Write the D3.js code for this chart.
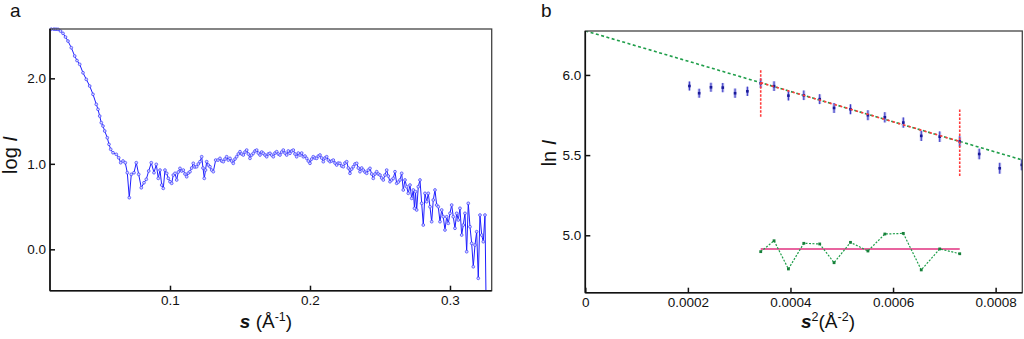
<!DOCTYPE html>
<html><head><meta charset="utf-8">
<script src="https://cdn.jsdelivr.net/npm/d3@7"></script>
<style>
body{margin:0;background:#fff}
text{font-family:"Liberation Sans",Arial,Helvetica,sans-serif;fill:#111}
</style>
</head><body>
<svg id="chart" width="1024" height="339"></svg>
<script>
// ---- Panel a: scattering profile (log I vs s) ----
const sValues = [
0.01521,0.01714,0.01857,0.02000,0.02179,0.02357,0.02536,0.02714,0.02950,0.03193,
0.03357,0.03550,0.03786,0.04021,0.04264,0.04500,0.04736,0.04857,0.04979,0.05093,
0.05214,0.05336,0.05521,0.05643,0.05764,0.05929,0.06164,0.06336,0.06479,0.06643,
0.06807,0.06950,0.07093,0.07236,0.07429,0.07593,0.07764,0.07950,0.08143,0.08307,
0.08479,0.08664,0.08857,0.09021,0.09164,0.09286,0.09407,0.09521,0.09643,0.09764,
0.09879,0.10000,0.10121,0.10236,0.10357,0.10479,0.10593,0.10714,0.10836,0.10950,
0.11071,0.11193,0.11307,0.11429,0.11550,0.11664,0.11786,0.11907,0.12021,0.12143,
0.12264,0.12357,0.12450,0.12536,0.12621,0.12736,0.12857,0.12979,0.13093,0.13264,
0.13429,0.13571,0.13693,0.13807,0.13929,0.14050,0.14164,0.14286,0.14407,0.14521,
0.14643,0.14764,0.14879,0.15000,0.15121,0.15236,0.15357,0.15479,0.15593,0.15714,
0.15836,0.15950,0.16071,0.16193,0.16307,0.16429,0.16550,0.16664,0.16786,0.16907,
0.17021,0.17143,0.17264,0.17379,0.17500,0.17621,0.17736,0.17857,0.17979,0.18093,
0.18214,0.18336,0.18450,0.18571,0.18693,0.18807,0.18929,0.19050,0.19164,0.19286,
0.19407,0.19521,0.19643,0.19764,0.19879,0.20000,0.20121,0.20236,0.20357,0.20479,
0.20593,0.20714,0.20836,0.20950,0.21071,0.21193,0.21307,0.21429,0.21550,0.21664,
0.21786,0.21907,0.22021,0.22143,0.22264,0.22379,0.22500,0.22621,0.22736,0.22857,
0.22979,0.23093,0.23214,0.23336,0.23450,0.23571,0.23693,0.23807,0.23929,0.24050,
0.24164,0.24286,0.24407,0.24521,0.24643,0.24764,0.24879,0.25000,0.25121,0.25236,
0.25357,0.25479,0.25593,0.25714,0.25836,0.25950,0.26071,0.26193,0.26307,0.26429,
0.26550,0.26664,0.26786,0.26907,0.27021,0.27143,0.27264,0.27379,0.27464,0.27536,
0.27621,0.27736,0.27857,0.27979,0.28093,0.28214,0.28336,0.28450,0.28571,0.28693,
0.28807,0.28929,0.29050,0.29164,0.29286,0.29407,0.29521,0.29643,0.29764,0.29879,
0.30000,0.30121,0.30236,0.30357,0.30479,0.30593,0.30714,0.30836,0.30950,0.31071,
0.31193,0.31307,0.31429,0.31550,0.31664,0.31786,0.31907,0.32021,0.32143,0.32264,
0.32379,0.32500,0.32571
];
const logIValues = [
2.575,2.575,2.574,2.573,2.553,2.526,2.483,2.436,2.358,2.261,
2.208,2.164,2.065,1.988,1.910,1.813,1.696,1.637,1.559,1.481,
1.442,1.384,1.305,1.228,1.170,1.130,1.111,1.071,1.013,1.033,
1.013,0.896,0.604,0.877,0.896,1.013,0.877,0.720,0.779,0.819,
0.916,1.013,0.896,0.994,0.830,0.927,0.752,0.713,0.927,0.889,
0.830,0.791,0.772,0.869,0.889,0.811,0.904,0.947,0.916,0.927,
0.881,0.849,0.892,0.908,0.951,1.006,0.963,0.966,0.998,1.025,
1.083,0.951,0.830,0.927,1.025,0.986,0.966,0.927,0.908,1.044,
1.044,1.064,1.033,1.025,1.056,1.083,1.044,1.064,1.033,1.006,
1.056,1.083,1.115,1.142,1.115,1.103,1.138,1.161,1.115,1.064,
1.103,1.123,1.150,1.161,1.126,1.103,1.138,1.123,1.103,1.083,
1.115,1.123,1.103,1.083,1.126,1.142,1.115,1.103,1.138,1.161,
1.126,1.103,1.150,1.123,1.150,1.161,1.115,1.083,1.126,1.103,
1.126,1.083,1.091,1.064,1.033,1.006,1.056,1.083,1.068,1.064,
1.091,1.103,1.068,1.025,1.068,1.083,1.044,1.025,1.033,1.044,
1.009,0.986,1.009,1.006,0.974,0.966,1.009,1.025,0.951,0.889,
0.939,0.966,0.998,1.006,0.951,0.908,0.951,0.927,0.904,0.889,
0.927,0.947,0.881,0.830,0.881,0.908,0.881,0.869,0.834,0.811,
0.869,0.927,0.857,0.791,0.811,0.830,0.908,0.772,0.787,0.811,
0.889,0.694,0.811,0.732,0.655,0.752,0.596,0.694,0.480,0.674,
0.460,0.732,0.811,0.538,0.284,0.655,0.557,0.655,0.498,0.323,
0.577,0.694,0.518,0.498,0.323,0.460,0.381,0.226,0.381,0.304,
0.421,0.518,0.381,0.246,0.421,0.343,0.480,0.167,0.284,0.421,
-0.028,0.538,0.264,0.070,-0.204,0.050,0.206,-0.339,0.401,0.167,
0.089,0.401,-0.520
];
const aXTicks = [0.1, 0.2, 0.3];
const aYTicks = [0.0, 1.0, 2.0];

// ---- Panel b: Guinier plot (ln I vs s^2) ----
const s2Values = [
0.000203,0.000222,0.000245,0.000268,0.000292,0.000316,0.000342,0.000368,0.000396,0.000426,0.000457,
0.000485,0.000517,0.000551,0.000584,0.000620,0.000655,0.000691,0.000730,0.000768,0.000808,0.000851
];
const lnIValues = [
5.931,5.886,5.923,5.921,5.886,5.898,5.948,5.930,5.871,5.873,5.849,
5.794,5.786,5.749,5.736,5.703,5.620,5.615,5.585,5.507,5.418,5.439
];
const lnIErrors = [
0.028,0.028,0.028,0.029,0.029,0.029,0.030,0.030,0.030,0.030,0.031,
0.031,0.031,0.031,0.032,0.032,0.032,0.033,0.033,0.033,0.034,0.034
];
const fitIntercept = 6.275;
const fitSlope = -945;
const fitStart = 6;    // first point used by the fit
const fitEnd = 18;     // last point used by the fit
const fitLimitSpans = [[5.740, 6.031], [5.370, 5.790]];
const residualValues = [4.898,4.966,4.790,4.950,4.946,4.829,4.956,4.902,5.008,5.012,4.784,4.915,4.885];
const residualBase = 4.915;
const bXTicks = [0, 0.0002, 0.0004, 0.0006, 0.0008];
const bXTickLabels = ["0", "0.0002", "0.0004", "0.0006", "0.0008"];
const bYTicks = [5.0, 5.5, 6.0];

const svg = d3.select("#chart");

function frame(g, w, h) {
  g.append("rect").attr("x", 0).attr("y", 0).attr("width", w).attr("height", h)
    .attr("fill", "none").attr("stroke", "#444").attr("stroke-width", 1.3);
  g.append("line").attr("x1", 0).attr("x2", 0).attr("y1", 0).attr("y2", h)
    .attr("stroke", "#111").attr("stroke-width", 1.6);
  g.append("line").attr("x1", 0).attr("x2", w).attr("y1", h).attr("y2", h)
    .attr("stroke", "#111").attr("stroke-width", 1.6);
}

function styleAxis(sel) {
  sel.select(".domain").remove();
  sel.selectAll(".tick line").attr("stroke", "#111").attr("stroke-width", 1.5);
  sel.selectAll(".tick text").attr("font-size", 13.5).attr("fill", "#111")
    .attr("font-family", '"Liberation Sans",Arial,sans-serif');
}

// ===== Panel a =====
const A = {x: 50, y: 29, w: 441.7, h: 261.7};
const ax = d3.scaleLinear().domain([0.01429, 0.3298]).range([0, A.w]);
const ay = d3.scaleLinear().domain([-0.484, 2.577]).range([A.h, 0]);
const ga = svg.append("g").attr("transform", `translate(${A.x},${A.y})`);

ga.append("clipPath").attr("id", "clipA").append("rect")
  .attr("x", -3).attr("y", -3).attr("width", A.w + 3).attr("height", A.h + 3);

const aData = sValues.map((s, i) => [s, logIValues[i]]);
const dataA = ga.append("g").attr("clip-path", "url(#clipA)");
dataA.append("path").datum(aData)
  .attr("fill", "none").attr("stroke", "#1e1eff").attr("stroke-width", 1)
  .attr("d", d3.line().x(d => ax(d[0])).y(d => ay(d[1])));
dataA.selectAll("circle").data(aData).join("circle")
  .attr("cx", d => ax(d[0])).attr("cy", d => ay(d[1])).attr("r", 1.4)
  .attr("fill", "#d4d4ff").attr("stroke", "#3a3aff").attr("stroke-width", 0.7);

frame(ga, A.w, A.h);
ga.append("g").attr("transform", `translate(0,${A.h})`)
  .call(d3.axisBottom(ax).tickValues(aXTicks).tickSize(-5).tickPadding(5).tickFormat(d3.format(".1f")))
  .call(styleAxis);
ga.append("g")
  .call(d3.axisLeft(ay).tickValues(aYTicks).tickSize(-5).tickPadding(4).tickFormat(d3.format(".1f")))
  .call(styleAxis);

svg.append("text").attr("x", 10).attr("y", 17).attr("font-size", 19).text("a");
svg.append("text").attr("transform", "translate(17,155) rotate(-90)")
  .attr("text-anchor", "middle").attr("font-size", 20)
  .call(t => { t.append("tspan").text("log "); t.append("tspan").attr("font-style", "italic").text("I"); });
svg.append("text").attr("x", 266).attr("y", 328).attr("text-anchor", "middle").attr("font-size", 19)
  .call(t => {
    t.append("tspan").attr("font-style", "italic").attr("font-weight", "bold").text("s");
    t.append("tspan").text(" (Å");
    t.append("tspan").attr("dy", -7).attr("font-size", 12.5).text("-1");
    t.append("tspan").attr("dy", 7).text(")");
  });

// ===== Panel b =====
const B = {x: 585.3, y: 31, w: 437, h: 261.7};
const bx = d3.scaleLinear().domain([0, 0.000852]).range([0, B.w]);
const by = d3.scaleLinear().domain([4.642, 6.274]).range([B.h, 0]);
const gb = svg.append("g").attr("transform", `translate(${B.x},${B.y})`);

gb.append("clipPath").attr("id", "clipB").append("rect")
  .attr("x", 0).attr("y", 0).attr("width", B.w).attr("height", B.h);
const plotB = gb.append("g").attr("clip-path", "url(#clipB)");

const fitLine = s2 => fitIntercept + fitSlope * s2;

// full-range linear fit
plotB.append("line")
  .attr("x1", bx(0)).attr("y1", by(fitLine(0)))
  .attr("x2", bx(0.000852)).attr("y2", by(fitLine(0.000852)))
  .attr("stroke", "#1f9e4a").attr("stroke-width", 1.6).attr("stroke-dasharray", "3,2.5");

// error bars and points
const bData = s2Values.map((s, i) => ({s, v: lnIValues[i], e: lnIErrors[i]}));
plotB.selectAll(".errHalo").data(bData).join("line").attr("class", "errHalo")
  .attr("x1", d => bx(d.s)).attr("x2", d => bx(d.s))
  .attr("y1", d => by(d.v - d.e)).attr("y2", d => by(d.v + d.e))
  .attr("stroke", "#c0c0f0").attr("stroke-width", 3);
plotB.selectAll(".err").data(bData).join("line").attr("class", "err")
  .attr("x1", d => bx(d.s)).attr("x2", d => bx(d.s))
  .attr("y1", d => by(d.v - d.e)).attr("y2", d => by(d.v + d.e))
  .attr("stroke", "#3434c4").attr("stroke-width", 1);
plotB.selectAll(".pt").data(bData).join("rect").attr("class", "pt")
  .attr("x", d => bx(d.s) - 1.3).attr("y", d => by(d.v) - 1.3)
  .attr("width", 2.6).attr("height", 2.6).attr("fill", "#1a1a99");

// fitted segment and its limits
const s0 = s2Values[fitStart], s1 = s2Values[fitEnd];
plotB.append("line")
  .attr("x1", bx(s0)).attr("y1", by(fitLine(s0)))
  .attr("x2", bx(s1)).attr("y2", by(fitLine(s1)))
  .attr("stroke", "#ff3b3b").attr("stroke-width", 1.6)
  .attr("stroke-dasharray", "2.5,3");
[s0, s1].forEach((s, i) => {
  plotB.append("line")
    .attr("x1", bx(s)).attr("x2", bx(s))
    .attr("y1", by(fitLimitSpans[i][0])).attr("y2", by(fitLimitSpans[i][1]))
    .attr("stroke", "#ff3b3b").attr("stroke-width", 1.6).attr("stroke-dasharray", "2.5,1.5");
});

// residuals
const resData = residualValues.map((v, i) => [s2Values[fitStart + i], v]);
plotB.append("line")
  .attr("x1", bx(s0)).attr("x2", bx(s1))
  .attr("y1", by(residualBase)).attr("y2", by(residualBase))
  .attr("stroke", "#e0307f").attr("stroke-width", 1.5);
plotB.append("path").datum(resData)
  .attr("fill", "none").attr("stroke", "#1f9e4a").attr("stroke-width", 1.2)
  .attr("stroke-dasharray", "2,1.5")
  .attr("d", d3.line().x(d => bx(d[0])).y(d => by(d[1])));
plotB.selectAll(".res").data(resData).join("rect").attr("class", "res")
  .attr("x", d => bx(d[0]) - 1.4).attr("y", d => by(d[1]) - 1.4)
  .attr("width", 2.8).attr("height", 2.8).attr("fill", "#17803a");

frame(gb, B.w, B.h);
gb.append("g").attr("transform", `translate(0,${B.h})`)
  .call(d3.axisBottom(bx).tickValues(bXTicks).tickSize(-5).tickPadding(5)
    .tickFormat((d, i) => bXTickLabels[i]))
  .call(styleAxis);
gb.append("g")
  .call(d3.axisLeft(by).tickValues(bYTicks).tickSize(-5).tickPadding(4).tickFormat(d3.format(".1f")))
  .call(styleAxis);

svg.append("text").attr("x", 541).attr("y", 17).attr("font-size", 19).text("b");
svg.append("text").attr("transform", "translate(556,153) rotate(-90)")
  .attr("text-anchor", "middle").attr("font-size", 20)
  .call(t => { t.append("tspan").text("ln "); t.append("tspan").attr("font-style", "italic").text("I"); });
svg.append("text").attr("x", 828).attr("y", 328).attr("text-anchor", "middle").attr("font-size", 19)
  .call(t => {
    t.append("tspan").attr("font-style", "italic").attr("font-weight", "bold").text("s");
    t.append("tspan").attr("dy", -7).attr("font-size", 12.5).text("2");
    t.append("tspan").attr("dy", 7).text("(Å");
    t.append("tspan").attr("dy", -7).attr("font-size", 12.5).text("-2");
    t.append("tspan").attr("dy", 7).text(")");
  });
</script>
</body></html>
